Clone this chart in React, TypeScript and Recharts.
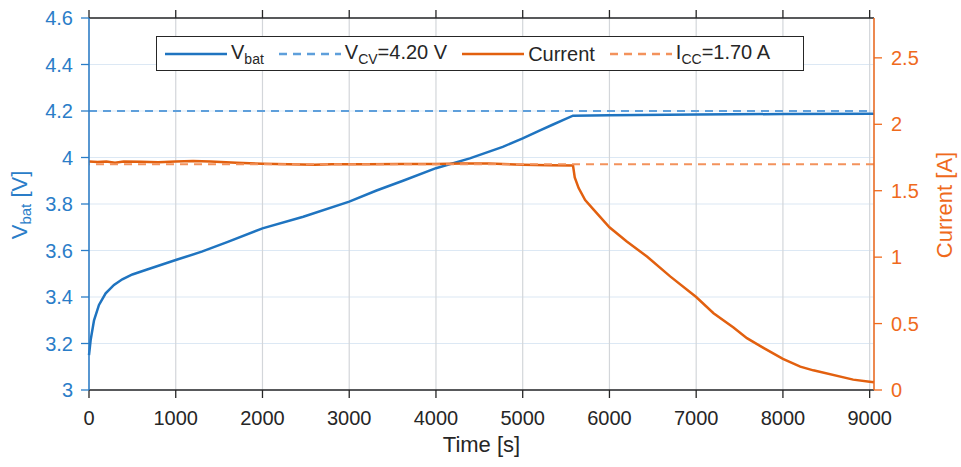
import React from 'react';
import {
  LineChart,
  Line,
  XAxis,
  YAxis,
  CartesianGrid,
  ReferenceLine,
  Legend
} from 'recharts';

// readings taken off the measured charge curve
const voltageTime = [0, 19, 58, 115, 192, 288, 384, 500, 653, 1000, 1300, 1600, 2000, 2470, 3000, 3315, 3620, 4000, 4390, 4770, 5000, 5200, 5350, 5470, 5580, 6000, 7000, 8000, 9050];
const vbat = [3.15, 3.215, 3.3, 3.366, 3.416, 3.452, 3.476, 3.497, 3.516, 3.559, 3.595, 3.637, 3.695, 3.745, 3.81, 3.858, 3.9, 3.954, 3.996, 4.046, 4.082, 4.117, 4.142, 4.162, 4.18, 4.182, 4.185, 4.187, 4.188];

const currentTime = [0, 100, 200, 300, 400, 600, 800, 1000, 1200, 1400, 1700, 2000, 2300, 2600, 2800, 3200, 3600, 4000, 4300, 4600, 5000, 5300, 5580, 5600, 5645, 5720, 5815, 6000, 6200, 6436, 6700, 7000, 7200, 7430, 7585, 7775, 8000, 8200, 8350, 8810, 9000, 9050];
const current = [1.72, 1.716, 1.72, 1.71, 1.72, 1.718, 1.714, 1.72, 1.723, 1.72, 1.71, 1.703, 1.7, 1.695, 1.7, 1.7, 1.701, 1.702, 1.704, 1.704, 1.696, 1.691, 1.69, 1.6, 1.52, 1.43, 1.36, 1.225, 1.118, 1.003, 0.855, 0.7, 0.578, 0.47, 0.39, 0.317, 0.234, 0.176, 0.148, 0.078, 0.062, 0.058];

const V_CV = 4.2;
const I_CC = 1.7;

const timeTicks = [0, 1000, 2000, 3000, 4000, 5000, 6000, 7000, 8000, 9000];
const voltageTicks = [3, 3.2, 3.4, 3.6, 3.8, 4, 4.2, 4.4, 4.6];
const currentTicks = [0, 0.5, 1, 1.5, 2, 2.5];

const BLUE = '#1f74c0';
const BLUE_AXIS = '#2a7dc8';
const BLUE_DASH = '#5e9fdb';
const ORANGE = '#e2600f';
const ORANGE_AXIS = '#ef6a1c';
const ORANGE_DASH = '#f3925c';
const INK = '#262626';

// merge both series onto one time base
const times = Array.from(new Set([...voltageTime, ...currentTime])).sort((a, b) => a - b);
const data = times.map((t) => {
  const vi = voltageTime.indexOf(t);
  const ci = currentTime.indexOf(t);
  return {
    t,
    vbat: vi >= 0 ? vbat[vi] : undefined,
    current: ci >= 0 ? current[ci] : undefined
  };
});

const legendItems = [
  { key: 'vbat', color: BLUE, dashed: false, label: <>V<sub style={{ fontSize: 14 }}>bat</sub></> },
  { key: 'vcv', color: BLUE_DASH, dashed: true, label: <>V<sub style={{ fontSize: 14 }}>CV</sub>=4.20 V</> },
  { key: 'cur', color: ORANGE, dashed: false, label: <>Current</> },
  { key: 'icc', color: ORANGE_DASH, dashed: true, label: <>I<sub style={{ fontSize: 14 }}>CC</sub>=1.70 A</> }
];

const renderLegend = () => (
  <div
    style={{
      boxSizing: 'border-box',
      width: '100%',
      height: '100%',
      border: '1.5px solid #262626',
      background: '#fff',
      display: 'flex',
      alignItems: 'center',
      paddingLeft: 8,
      fontSize: 20,
      color: INK,
      lineHeight: 1
    }}
  >
    {legendItems.map((it) => (
      <div key={it.key} style={{ display: 'flex', alignItems: 'center', marginRight: 15 }}>
        <svg width={62} height={6} style={{ marginRight: 4 }}>
          <line x1={0} y1={3} x2={62} y2={3} stroke={it.color} strokeWidth={2.5}
            strokeDasharray={it.dashed ? '8 6' : undefined} />
        </svg>
        <span style={{ whiteSpace: 'nowrap' }}>{it.label}</span>
      </div>
    ))}
  </div>
);

const leftLabel = () => (
  <text x={19} y={205} transform="rotate(-90 19 205)" textAnchor="middle"
    dominantBaseline="central" fill={BLUE_AXIS} fontSize={22}>
    <tspan>V</tspan>
    <tspan dy={6} fontSize={15}>bat</tspan>
    <tspan dy={-6}> [V]</tspan>
  </text>
);

const rightLabel = () => (
  <text x={944} y={205} transform="rotate(-90 944 205)" textAnchor="middle"
    dominantBaseline="central" fill={ORANGE_AXIS} fontSize={22}>
    Current [A]
  </text>
);

export default function App() {
  return (
    <div style={{ position: 'absolute', left: 0, top: 0, width: 961, height: 467, background: '#fff', fontFamily: '"Liberation Sans", Arial, sans-serif' }}>
      <LineChart width={961} height={467} data={data} margin={{ top: 0, right: 0, bottom: 0, left: 0 }}>
        <CartesianGrid xAxisId="b" yAxisId="v" vertical={false} stroke="#dce8f4" strokeWidth={1.2} />
        <CartesianGrid xAxisId="b" yAxisId="v" horizontal={false} stroke="#d3d6da" strokeWidth={1.2} />
        <XAxis
          xAxisId="t"
          orientation="top"
          dataKey="t"
          type="number"
          domain={[0, 9050]}
          ticks={timeTicks}
          height={18}
          tickSize={8}
          tickFormatter={() => ''}
          axisLine={{ stroke: INK, strokeWidth: 1.3 }}
          tickLine={{ stroke: INK, strokeWidth: 1.3 }}
        />
        <XAxis
          xAxisId="b"
          dataKey="t"
          type="number"
          domain={[0, 9050]}
          ticks={timeTicks}
          height={77}
          tickSize={8}
          tickMargin={13}
          tick={{ fill: INK, fontSize: 20 }}
          axisLine={{ stroke: INK, strokeWidth: 1.3 }}
          tickLine={{ stroke: INK, strokeWidth: 1.3 }}
          label={{ value: 'Time [s]', position: 'insideBottom', offset: 15, fill: INK, fontSize: 22 }}
        />
        <YAxis
          yAxisId="v"
          type="number"
          domain={[3, 4.6]}
          ticks={voltageTicks}
          width={89}
          tickSize={8}
          tickMargin={8}
          tick={{ fill: BLUE_AXIS, fontSize: 20 }}
          axisLine={{ stroke: BLUE_AXIS, strokeWidth: 1.5 }}
          tickLine={{ stroke: BLUE_AXIS, strokeWidth: 1.3 }}
          label={{ content: leftLabel }}
        />
        <YAxis
          yAxisId="i"
          orientation="right"
          type="number"
          domain={[0, 2.8]}
          ticks={currentTicks}
          width={87}
          tickSize={8}
          tickMargin={9}
          tick={{ fill: ORANGE_AXIS, fontSize: 20 }}
          axisLine={{ stroke: ORANGE_AXIS, strokeWidth: 1.5 }}
          tickLine={{ stroke: ORANGE_AXIS, strokeWidth: 1.3 }}
          label={{ content: rightLabel }}
        />
        <Line xAxisId="b" yAxisId="v" dataKey="vbat" stroke={BLUE} strokeWidth={2.5}
          dot={false} connectNulls isAnimationActive={false} />
        <ReferenceLine xAxisId="b" yAxisId="v" y={V_CV} stroke={BLUE_DASH} strokeWidth={2} strokeDasharray="8 6" />
        <Line xAxisId="b" yAxisId="i" dataKey="current" stroke={ORANGE} strokeWidth={2.5}
          dot={false} connectNulls isAnimationActive={false} />
        <ReferenceLine xAxisId="b" yAxisId="i" y={I_CC} stroke={ORANGE_DASH} strokeWidth={2} strokeDasharray="8 6" />
        <Legend
          layout="horizontal"
          verticalAlign="middle"
          align="center"
          wrapperStyle={{ position: 'absolute', left: 156, top: 36, width: 648, height: 35 }}
          content={renderLegend}
        />
      </LineChart>
    </div>
  );
}
